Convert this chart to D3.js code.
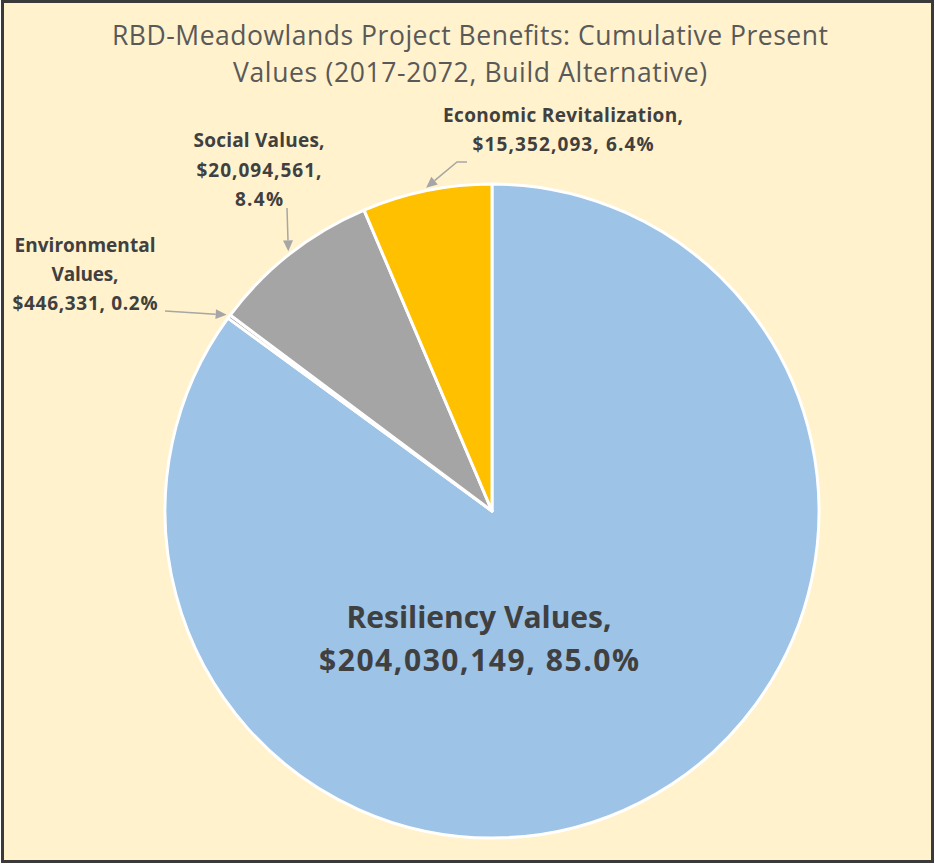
<!DOCTYPE html>
<html>
<head>
<meta charset="utf-8">
<script src="https://cdn.jsdelivr.net/npm/d3@7"></script>
<style>
  html, body { margin: 0; padding: 0; background: #ffffff; }
  svg { display: block; }
</style>
</head>
<body>
<svg id="chart" width="935" height="864"></svg>
<script>
// Project benefit categories and their cumulative present values (USD)
const categories = ["Resiliency Values", "Environmental Values", "Social Values", "Economic Revitalization"];
const values = [204030149, 446331, 20094561, 15352093];
const sliceColors = ["#9DC3E6", "#A5A5A5", "#A5A5A5", "#FFC000"];
const titleLines = [
  "RBD-Meadowlands Project Benefits: Cumulative Present",
  "Values (2017-2072, Build Alternative)"
];

const W = 935, H = 864;
const svg = d3.select("#chart");
const fmtMoney = d3.format("$,");
const fmtPct = d3.format(".1%");
const total = d3.sum(values);
const FONT = "'Open Sans', Lato, sans-serif";

// Frame and background
svg.append("rect")
  .attr("x", 2.5).attr("y", 1.5).attr("width", 930).attr("height", 860)
  .attr("fill", "#FFF2CC").attr("stroke", "#3a3a3a").attr("stroke-width", 3);

// Draws one centred line, stretched or squeezed by letter spacing to a set width
function textLine(parent, str, x, y, width, size, weight, color) {
  const t = parent.append("text")
    .attr("x", x).attr("y", y)
    .attr("text-anchor", "middle")
    .attr("font-family", FONT)
    .attr("font-size", size)
    .attr("font-weight", weight)
    .attr("fill", color)
    .text(str);
  if (width) t.attr("textLength", width).attr("lengthAdjust", "spacing");
  return t;
}

// Title
const titleG = svg.append("g");
const titleWidths = [716, 474];
titleLines.forEach((s, i) => textLine(titleG, s, 470, 45 + i * 37, titleWidths[i], 26.5, "normal", "#595959"));

// Pie
const cx = 492, cy = 511, R = 327;
const pie = d3.pie().sort(null).value(d => d.value);
const data = categories.map((c, i) => ({ name: c, value: values[i], color: sliceColors[i] }));
const arcs = pie(data);
const arc = d3.arc().innerRadius(0).outerRadius(R);

const g = svg.append("g").attr("transform", `translate(${cx},${cy})`);
g.selectAll("path").data(arcs).join("path")
  .attr("d", arc)
  .attr("fill", d => d.data.color)
  .attr("stroke", "#ffffff")
  .attr("stroke-width", 3)
  .attr("stroke-linejoin", "round");

// Label text built from each slice's value and share
function labelLines(d) {
  const money = fmtMoney(d.data.value);
  const pct = fmtPct(d.data.value / total);
  switch (d.data.name) {
    case "Resiliency Values": return [d.data.name + ",", money + ", " + pct];
    case "Environmental Values": return ["Environmental", "Values,", money + ", " + pct];
    case "Social Values": return [d.data.name + ",", money + ",", pct];
    default: return [d.data.name + ",", money + ", " + pct];
  }
}

// Label placement: centre x, baselines, line widths, font size, leader start points
const labelLayout = {
  "Resiliency Values":       { x: 479, ys: [628, 671], widths: [265, 320], size: 30, leader: null },
  "Environmental Values":    { x: 85,  ys: [252, 281, 310], widths: [141, 67, 145], size: 19, leader: [[165, 311]] },
  "Social Values":           { x: 259, ys: [147, 177, 206], widths: [131, 125, 48], size: 19, leader: [[287, 208]] },
  "Economic Revitalization": { x: 563, ys: [122, 151], widths: [240, 181], size: 19, leader: [[467, 162], [457, 162]] }
};

const labels = svg.append("g");
arcs.forEach(d => {
  const L = labelLayout[d.data.name];
  labelLines(d).forEach((s, i) =>
    textLine(labels, s, L.x, L.ys[i], L.widths[i], L.size, "bold", "#404040"));
});

// Leader lines ending with an arrowhead at the slice's outer edge
const leaderG = svg.append("g");
arcs.forEach(d => {
  const L = labelLayout[d.data.name];
  if (!L.leader) return;
  const mid = (d.startAngle + d.endAngle) / 2;
  const rEnd = R + 3;
  const end = [cx + rEnd * Math.sin(mid), cy - rEnd * Math.cos(mid)];
  const pts = L.leader.concat([end]);
  const prev = pts[pts.length - 2];
  const ang = Math.atan2(end[1] - prev[1], end[0] - prev[0]);
  const headLen = 11, headW = 5;
  const base = [end[0] - headLen * Math.cos(ang), end[1] - headLen * Math.sin(ang)];
  const linePts = pts.slice(0, -1).concat([base]);
  leaderG.append("path")
    .attr("d", d3.line()(linePts))
    .attr("fill", "none")
    .attr("stroke", "#A6A6A6")
    .attr("stroke-width", 1.5);
  const nx = -Math.sin(ang), ny = Math.cos(ang);
  leaderG.append("path")
    .attr("d", d3.line()([
      end,
      [base[0] + headW * nx, base[1] + headW * ny],
      [base[0] - headW * nx, base[1] - headW * ny]
    ]) + "Z")
    .attr("fill", "#A6A6A6");
});
</script>
</body>
</html>
